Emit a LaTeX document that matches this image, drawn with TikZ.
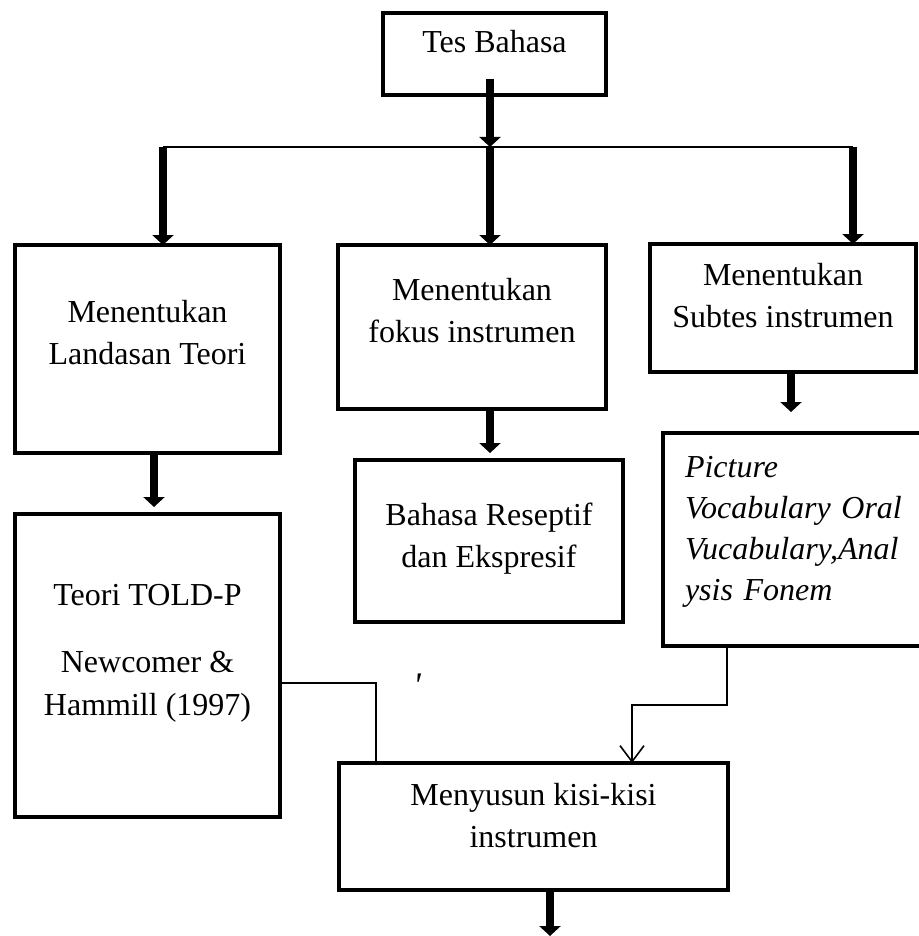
\documentclass[tikz,border=0pt]{standalone}
\usepackage{fontspec}
\setmainfont{Liberation Serif}
\usetikzlibrary{arrows.meta}

\begin{document}
\begin{tikzpicture}[x=1pt, y=1pt,
    box/.style={draw, rectangle, line width=4.5pt, outer sep=0pt, inner sep=4pt,
        anchor=north west, align=center, text height=63.5pt,
        font=\fontsize{32pt}{42.5pt}\selectfont},
    bigarrow/.style={line width=8pt, -{Triangle[width=21pt, length=10pt]}},
    link/.style={line width=1.6pt}]
    \useasboundingbox (0,0) rectangle (918,-936);

    % Boxes
    \node[box, minimum width=223pt, minimum height=82pt, text height=21pt, text depth=23pt] (tes) at (383,-13) {Tes Bahasa};

    \node[box, minimum width=265pt, minimum height=208pt, text depth=32.5pt] (landasan) at (15,-245) {Menentukan\\Landasan Teori};

    \node[box, minimum width=268pt, minimum height=164pt, text depth=32.5pt] (fokus) at (338,-245) {Menentukan\\fokus instrumen};

    \node[box, minimum width=266pt, minimum height=128pt, text depth=24.5pt] (subtes) at (650,-244) {Menentukan\\Subtes instrumen};

    \node[box, minimum width=265pt, minimum height=303pt, text height=131pt, text depth=32pt] (told) at (15,-514) {Teori TOLD-P\\[25pt]Newcomer \&\\Hammill (1997)};

    \node[box, minimum width=268pt, minimum height=162pt, text depth=10.5pt] (reseptif) at (355,-460) {Bahasa Reseptif\\dan Ekspresif};

    \node[box, minimum width=262pt, minimum height=213pt, text height=21pt, text depth=146pt, text width=218pt, align=left,
        font=\fontsize{32pt}{41pt}\selectfont\itshape] (picture) at (663,-433) {Picture\\Vocabulary Oral\\Vucabulary,Anal\\ysis Fonem};

    \node[box, minimum width=389pt, minimum height=127pt, text depth=21.5pt] (kisi) at (339,-763) {Menyusun kisi-kisi\\instrumen};

    \node[anchor=base, font=\fontsize{36pt}{40pt}\selectfont\itshape] (tick) at (417,-697) {\textquotesingle};

    % Branching
    \coordinate (barL) at (163,-147);
    \coordinate (barM) at (490,-147);
    \coordinate (barR) at (853,-147);
    \coordinate (exit) at (550,-936);

    \draw[link] (barL) -- (barR);
    \draw[bigarrow] ([yshift=16pt]tes.south -| barM) -- (barM);
    \draw[bigarrow] (barM) -- (fokus.north -| barM);
    \draw[bigarrow] (barL) -- (landasan.north -| barL);
    \draw[bigarrow] (barR) -- (subtes.north -| barR);

    % Steps down
    \draw[bigarrow, shorten >=7pt] ([xshift=6.5pt]landasan.south) -- ([xshift=6.5pt]landasan.south |- told.north);
    \draw[bigarrow, shorten >=7pt] (fokus.south -| barM) -- (reseptif.north -| barM);
    \draw[bigarrow, shorten >=21pt] ([xshift=8pt]subtes.south) -- ([xshift=8pt]subtes.south |- picture.north);
    \draw[bigarrow] (kisi.south -| exit) -- (exit);

    % Into the grid
    \draw[link] ([yshift=-169pt]told.north east) -| ([xshift=37pt]kisi.north west);
    \draw[link, -{Straight Barb[width=24pt, length=16pt]}] ([xshift=64pt]picture.south west) -- ++(0,-59) -| ([xshift=293pt]kisi.north west);
\end{tikzpicture}
\end{document}
